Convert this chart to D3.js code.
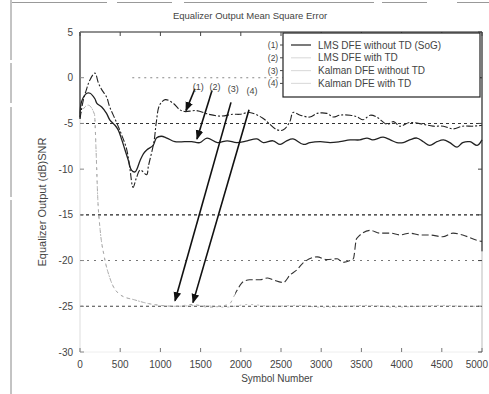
<!DOCTYPE html>
<html><head><meta charset="utf-8">
<script src="https://cdn.jsdelivr.net/npm/d3@7"></script>
<style>body{margin:0;background:#fff;} svg{display:block;font-family:"Liberation Sans",Arial,sans-serif;}</style>
</head><body><svg id="c" width="489" height="394"></svg>
<script>
// ---------- data ----------
const xTicks = [0,500,1000,1500,2000,2500,3000,3500,4000,4500,5000];
const yTicks = [5,0,-5,-10,-15,-20,-25,-30];
const titleText = "Equalizer Output Mean Square Error";
const xLabel = "Symbol Number";
const yLabel = "Equalizer Output (dB)SNR";
const legendNames = ["LMS DFE without TD (SoG)","LMS DFE with TD","Kalman DFE without TD","Kalman DFE with TD"];
const legendMarks = ["(1)","(2)","(3)","(4)"];

// upper LMS curve (arrow 1)
const lmsUpSym = [0,40,80,120,185,230,270,330,370,450,520,580,620,660,700,750,830,850,920,950,990,1060,1160,1240,1300,1450,1600,1750,1900,1990,2110,2270,2450,2530,2610,2650,2740,2860,2950,3070,3150,3230,3360,3450,3520,3610,3690,3820,3900,3980,4100,4270,4390,4520,4640,4760,4890,5000];
const lmsUpVal = [-4.5,-2.5,-1.3,-0.3,0.5,-0.6,-1.3,-2.1,-3.2,-4.8,-6.3,-7.8,-9.9,-12,-11,-10.1,-10.6,-9.7,-7,-4.8,-3,-2.4,-2.8,-3.5,-3.7,-3.6,-4.0,-4.2,-4.0,-4.0,-3.8,-4.4,-5.7,-5.7,-4.8,-3.8,-4.1,-4.3,-3.9,-3.9,-4.3,-4.1,-4.1,-4.3,-4.6,-4.1,-4.3,-5.1,-4.8,-5.3,-4.9,-5.1,-5.3,-5.3,-5.6,-5.3,-5.3,-5.2];

// lower LMS curve (arrow 2)
const lmsLowSym = [0,20,85,125,185,210,270,330,370,435,475,520,560,600,640,685,750,790,830,910,950,1010,1080,1180,1300,1390,1490,1580,1710,1830,1950,2080,2200,2280,2400,2490,2570,2650,2780,2860,2990,3110,3230,3360,3480,3570,3640,3770,3860,3940,4020,4100,4190,4270,4350,4440,4520,4600,4690,4760,4850,4940,5000];
const lmsLowVal = [-4.3,-2.6,-1.7,-1.7,-2.3,-2.8,-3.2,-3.9,-4.6,-5.2,-5.7,-6.8,-7.9,-9.0,-10.1,-10.3,-9,-8.3,-7.9,-7.4,-6.6,-6.4,-6.6,-7.0,-7.0,-7.0,-7.1,-6.6,-7.1,-6.9,-7.1,-6.9,-6.7,-7.1,-6.9,-7.3,-6.9,-6.7,-7.3,-7.1,-7.0,-7.1,-7.0,-6.8,-6.8,-6.6,-6.8,-6.5,-6.8,-7.1,-7.1,-6.8,-6.6,-7.0,-7.4,-7.0,-6.8,-7.1,-7.6,-7.1,-7.0,-7.4,-6.8];

// Kalman without TD
const kalNoTdSym = [0,100,180,200,220,250,300,375,510,680,850,1000,1200,1400,1600,1850,1950,2030,2110,2240,2330,2400,2530,2610,2700,2770,2950,3070,3200,3270,3360,3400,3440,3610,3730,3860,3980,4100,4230,4350,4510,4640,4760,4940,5000];
const kalNoTdVal = [-4,-3,-4,-8,-13,-16.6,-19.5,-22,-23.8,-24.3,-24.7,-24.9,-25,-24.8,-25.1,-24.8,-23.3,-22.3,-22.1,-22.1,-21.9,-22.1,-22.4,-21.6,-21,-20.3,-19.6,-19.9,-19.8,-20.2,-20,-19.8,-17.6,-16.7,-17,-17,-17.2,-17,-17.2,-17.2,-17.4,-17,-17.2,-17.8,-17.9];

// Kalman with TD
const kalTdSym = [0,100,180,200,220,250,300,375,510,680,850,1000,1200,1500,1800,2100,2400,2700,3000,3300,3600,3900,4200,4500,4800,5000];
const kalTdVal = [-4,-3,-4,-8,-13,-16.6,-19.5,-22,-23.8,-24.3,-24.7,-24.9,-25,-24.9,-25.1,-24.8,-25,-24.9,-25.1,-25,-24.9,-25.1,-25,-24.9,-25,-25];

// annotation arrows
const arrowStartSym = [1430,1642,1878,2102];
const arrowStartVal = [-1.2,-1.4,-2.7,-3.5];
const arrowEndSym = [1318,1455,1182,1405];
const arrowEndVal = [-3.6,-6.7,-24.4,-24.6];
const arrowLabelSym = [1470,1680,1905,2140];
const arrowLabelVal = [-1.0,-1.0,-1.2,-1.4];
const arrowLabels = ["(1)","(2)","(3)","(4)"];

// ---------- layout ----------
const svg = d3.select("#c");
const L=80, R=482, T=32, B=352;
const x = d3.scaleLinear().domain([0,5000]).range([L,R]);
const y = d3.scaleLinear().domain([-30,5]).range([B,T]);
const ink = "#222", textCol = "#444";

// scan frame artifacts
svg.append("line").attr("x1",11).attr("x2",11).attr("y1",0).attr("y2",394)
  .attr("stroke","#888").attr("stroke-width",1).attr("stroke-dasharray","60,3,40,4,90,3,200");
svg.append("line").attr("x1",12).attr("x2",489).attr("y1",2.5).attr("y2",2.5)
  .attr("stroke","#999").attr("stroke-width",1).attr("stroke-dasharray","95,10,55,12,190,8,45,30,80");

// grid lines
const gridStyle = {"0":["#888","2,4",650], "-5":["#333","3,3",0], "-10":["none","1,1",0], "-15":["#222","3,3",0], "-20":["#777","2,5",0], "-25":["#444","3,3",0]};
svg.append("g").selectAll("line").data(yTicks.filter(v=>v<5 && v>-30)).join("line")
  .attr("x1",d=>x(gridStyle[d][2])).attr("x2",x(5000)).attr("y1",d=>y(d)).attr("y2",d=>y(d))
  .attr("stroke",d=>gridStyle[d][0]).attr("stroke-width",1.1).attr("stroke-dasharray",d=>gridStyle[d][1]);

// axes box
svg.append("line").attr("x1",L).attr("x2",R).attr("y1",T).attr("y2",T).attr("stroke",ink).attr("stroke-width",1.2);
svg.append("line").attr("x1",L).attr("x2",L).attr("y1",T).attr("y2",y(-4.5)).attr("stroke",ink).attr("stroke-width",1.2);
svg.append("line").attr("x1",L).attr("x2",L).attr("y1",y(-4.5)).attr("y2",B).attr("stroke","#ddd").attr("stroke-width",1);
svg.append("line").attr("x1",R).attr("x2",R).attr("y1",T).attr("y2",y(-19)).attr("stroke",ink).attr("stroke-width",1.2);
svg.append("line").attr("x1",R).attr("x2",R).attr("y1",y(-19)).attr("y2",B).attr("stroke","#bbb").attr("stroke-width",1);
svg.append("line").attr("x1",L).attr("x2",R).attr("y1",B).attr("y2",B).attr("stroke","#eee").attr("stroke-width",1);

// ticks
const tk = svg.append("g").attr("stroke","#444").attr("stroke-width",1);
xTicks.forEach(t=>{
  tk.append("line").attr("x1",x(t)).attr("x2",x(t)).attr("y1",T).attr("y2",T+4);
  tk.append("line").attr("x1",x(t)).attr("x2",x(t)).attr("y1",B).attr("y2",B-4).attr("stroke","#777");
});
yTicks.forEach(t=>{
  tk.append("line").attr("x1",L).attr("x2",L+4).attr("y1",y(t)).attr("y2",y(t)).attr("stroke","#888");
  tk.append("line").attr("x1",R).attr("x2",R-4).attr("y1",y(t)).attr("y2",y(t));
});

// tick labels
svg.append("g").selectAll("text").data(xTicks).join("text")
  .attr("x",d=>d===5000 ? 488 : x(d)).attr("y",B+16)
  .attr("text-anchor",d=>d===5000 ? "end" : "middle")
  .attr("font-size",10).attr("fill",textCol).text(d=>d);
svg.append("g").selectAll("text").data(yTicks).join("text")
  .attr("x",L-7).attr("y",d=>y(d)+3.5).attr("text-anchor","end")
  .attr("font-size",10).attr("fill",textCol).text(d=>d);

// titles
svg.append("text").attr("x",250).attr("y",19).attr("text-anchor","middle").attr("font-size",9.5).attr("fill",textCol).text(titleText);
svg.append("text").attr("x",277).attr("y",382).attr("text-anchor","middle").attr("font-size",10).attr("fill",textCol).text(xLabel);
svg.append("text").attr("transform",`translate(46,${(T+B)/2+10}) rotate(-90)`).attr("text-anchor","middle").attr("font-size",11).attr("fill",textCol).text(yLabel);

// curves
const mk = (sym,val)=>sym.map((s,i)=>[s,val[i]]);
const lineSmooth = d3.line().x(d=>x(d[0])).y(d=>y(d[1])).curve(d3.curveCatmullRom.alpha(0.5));
const lineMono = d3.line().x(d=>x(d[0])).y(d=>y(d[1])).curve(d3.curveMonotoneX);
const defs = svg.append("defs");
defs.append("clipPath").attr("id","clipL").append("rect").attr("x",0).attr("y",0).attr("width",x(1930)).attr("height",394);
defs.append("clipPath").attr("id","clipR").append("rect").attr("x",x(1930)).attr("y",0).attr("width",489).attr("height",394);

svg.append("path").attr("d",lineMono(mk(kalTdSym,kalTdVal))).attr("fill","none").attr("stroke","#bbb").attr("stroke-width",1).attr("stroke-dasharray","2,4");
const kalNoTdPath = lineMono(mk(kalNoTdSym,kalNoTdVal));
svg.append("path").attr("d",kalNoTdPath).attr("clip-path","url(#clipL)").attr("fill","none").attr("stroke","#aaa").attr("stroke-width",1).attr("stroke-dasharray","3,4");
svg.append("path").attr("d",kalNoTdPath).attr("clip-path","url(#clipR)").attr("fill","none").attr("stroke","#333").attr("stroke-width",1.1).attr("stroke-dasharray","7,3");
svg.append("path").attr("d",lineSmooth(mk(lmsUpSym,lmsUpVal))).attr("fill","none").attr("stroke",ink).attr("stroke-width",1.1).attr("stroke-dasharray","7,2,2,2");
svg.append("path").attr("d",lineSmooth(mk(lmsLowSym,lmsLowVal))).attr("fill","none").attr("stroke",ink).attr("stroke-width",1.3);

// arrows
defs.append("marker").attr("id","ah").attr("viewBox","0 0 10 10").attr("refX",9).attr("refY",5)
  .attr("markerWidth",6).attr("markerHeight",6).attr("orient","auto")
  .append("path").attr("d","M0,1 L10,5 L0,9 Z").attr("fill","#111");
arrowStartSym.forEach((s,i)=>{
  svg.append("line").attr("x1",x(s)).attr("y1",y(arrowStartVal[i]))
    .attr("x2",x(arrowEndSym[i])).attr("y2",y(arrowEndVal[i]))
    .attr("stroke","#111").attr("stroke-width",1.6).attr("marker-end","url(#ah)");
  svg.append("text").attr("x",x(arrowLabelSym[i])).attr("y",y(arrowLabelVal[i])+3)
    .attr("text-anchor","middle").attr("font-size",9).attr("fill",textCol).text(arrowLabels[i]);
});

// legend
const lgX=283, lgY=33, lgW=197, lgH=64, rowH=12.8;
svg.append("rect").attr("x",lgX).attr("y",lgY).attr("width",lgW).attr("height",lgH)
  .attr("fill","#fff").attr("stroke",ink).attr("stroke-width",1.2);
legendNames.forEach((n,i)=>{
  const yy = lgY+12+i*rowH;
  svg.append("text").attr("x",lgX+35).attr("y",yy+3.5).attr("font-size",10).attr("fill",textCol).text(n);
  svg.append("line").attr("x1",lgX+8).attr("x2",lgX+28).attr("y1",yy).attr("y2",yy)
    .attr("stroke",i===0?ink:"#ddd").attr("stroke-width",1.2);
  svg.append("text").attr("x",lgX-10).attr("y",yy+3).attr("text-anchor","middle").attr("font-size",8.5).attr("fill",textCol).text(legendMarks[i]);
  svg.append("line").attr("x1",lgX-3).attr("x2",lgX).attr("y1",yy).attr("y2",yy).attr("stroke","#444");
});
</script></body></html>
